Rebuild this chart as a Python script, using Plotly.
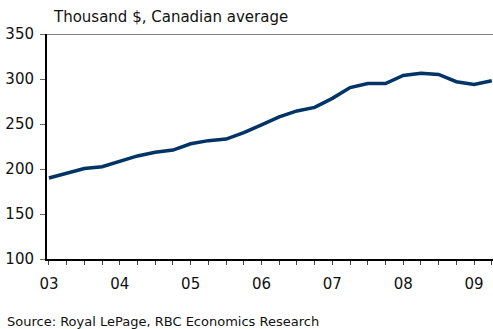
import plotly.graph_objects as go

quarters = list(range(26))  # 2003Q1 .. 2009Q2
prices = [190, 195.5, 200.5, 202.5, 208.5, 214.5, 218.5, 221, 228, 231.5, 233.3, 240.5,
          249, 258, 264.5, 268.5, 278.5, 290.5, 295, 295, 304, 306.3, 305, 297, 294, 298]
year_labels = ["03", "04", "05", "06", "07", "08", "09"]
y_ticks = [100, 150, 200, 250, 300, 350]

ticktext = [year_labels[i // 4] if i % 4 == 0 else "" for i in quarters]

fig = go.Figure()
fig.add_trace(go.Scatter(x=quarters, y=prices, mode="lines",
                         line=dict(color="#003366", width=3.5), cliponaxis=False,
                         hoverinfo="skip"))

font = "DejaVu Sans"
fig.update_layout(
    width=493, height=329,
    margin=dict(l=47, r=0, t=34, b=70),
    paper_bgcolor="white", plot_bgcolor="white",
    showlegend=False,
    font=dict(family=font, size=15, color="#111111"),
    xaxis=dict(range=[-0.11, 25.07], tickmode="array", tickvals=quarters, ticktext=ticktext,
               ticks="outside", ticklen=4, tickwidth=1, tickcolor="#444444",
               showline=True, linecolor="black", linewidth=2, showgrid=False, zeroline=False,
               ticklabelstandoff=6, tickfont=dict(size=15)),
    yaxis=dict(range=[100, 350], tickmode="array", tickvals=y_ticks,
               ticks="outside", ticklen=5, tickwidth=1, tickcolor="#666666",
               showline=True, linecolor="black", linewidth=2, showgrid=False, zeroline=False,
               ticklabelstandoff=3, tickfont=dict(size=15)),
    shapes=[dict(type="line", xref="paper", yref="y", x0=0, x1=1, y0=350, y1=350,
                 line=dict(color="#808080", width=2))],
    annotations=[
        dict(text="Thousand $, Canadian average", xref="paper", yref="paper",
             x=0, xshift=4, y=1, yshift=17, xanchor="left", yanchor="middle",
             showarrow=False, font=dict(size=15)),
        dict(text="Source: Royal LePage, RBC Economics Research", xref="paper", yref="paper",
             x=0, xshift=-42, y=0, yshift=-62, xanchor="left", yanchor="middle",
             showarrow=False, font=dict(size=13)),
    ],
)

fig.write_html("out.html")
